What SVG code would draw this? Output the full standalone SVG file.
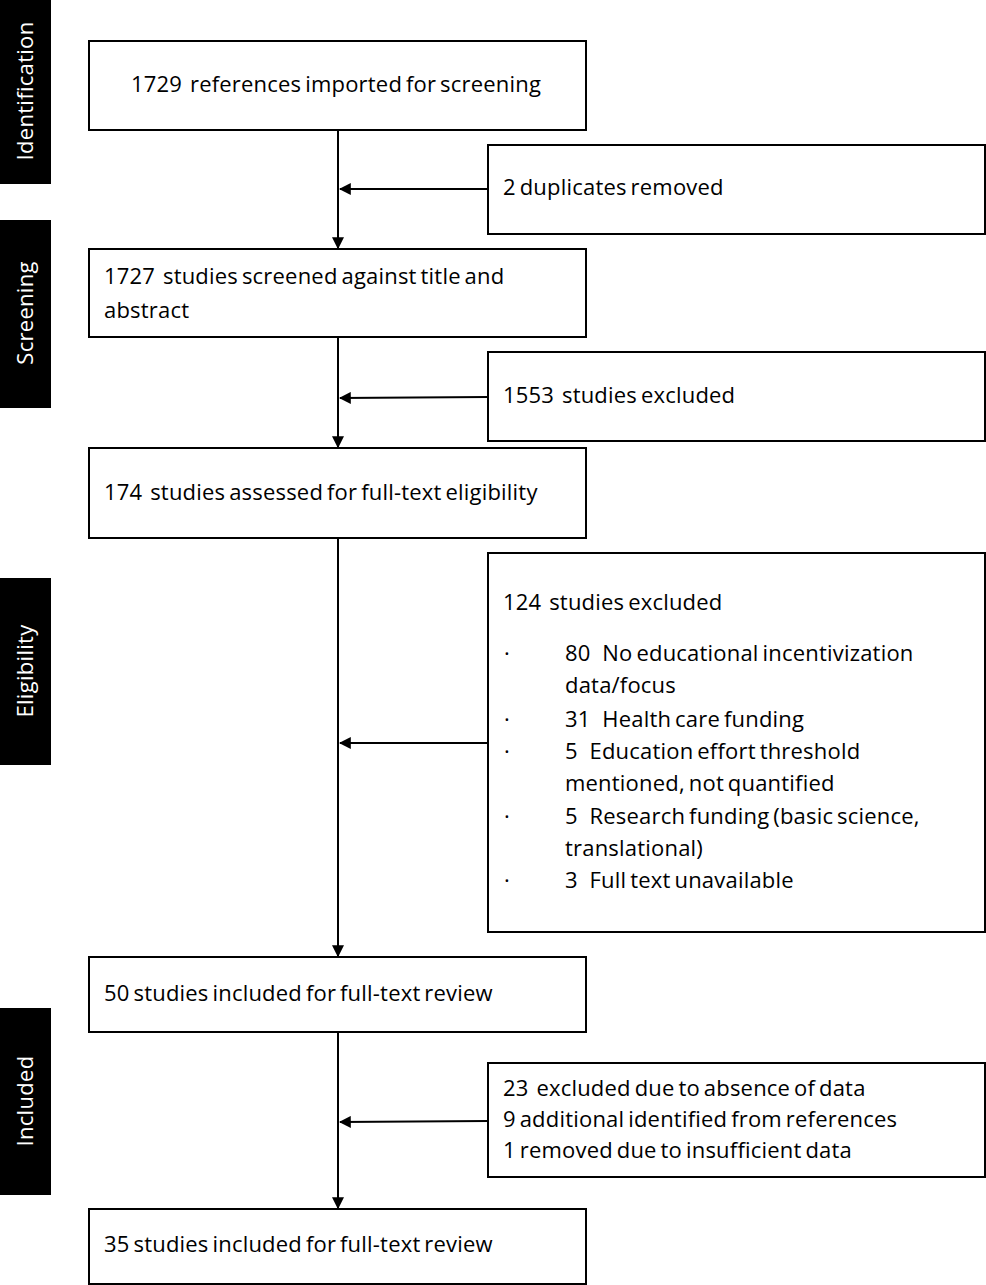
<svg xmlns="http://www.w3.org/2000/svg" width="986" height="1285" viewBox="0 0 986 1285">
<style>
.box{fill:#fff;stroke:#000;stroke-width:2}
.side{fill:#000}
.st{fill:#fff;font-family:"Open Sans",sans-serif;font-size:22px;text-anchor:middle;letter-spacing:0.3px}
.t{font-family:"Open Sans","Liberation Sans",sans-serif;font-size:22px;fill:#000;white-space:pre;letter-spacing:0.2px;word-spacing:-2px}
.ln{stroke:#000;stroke-width:2;fill:none}
</style>
<defs>
<marker id="ah" viewBox="0 0 10 10" refX="9" refY="5" markerWidth="12" markerHeight="12" markerUnits="userSpaceOnUse" orient="auto"><path d="M0,0 L10,5 L0,10 z" fill="#000"/></marker>
</defs>
<rect width="986" height="1285" fill="#fff"/>
<g id="side-identification"><rect class="side" x="0" y="0" width="51" height="184"/><text class="st" transform="translate(33,91) rotate(-90)">Identification</text></g>
<g id="side-screening"><rect class="side" x="0" y="220" width="51" height="188"/><text class="st" transform="translate(33,313) rotate(-90)">Screening</text></g>
<g id="side-eligibility"><rect class="side" x="0" y="578" width="51" height="187"/><text class="st" transform="translate(33,671) rotate(-90)">Eligibility</text></g>
<g id="side-included"><rect class="side" x="0" y="1008" width="51" height="187"/><text class="st" transform="translate(33,1101) rotate(-90)">Included</text></g>
<g id="connectors">
<line class="ln" x1="338" y1="130" x2="338" y2="248" marker-end="url(#ah)"/>
<line class="ln" x1="488" y1="189" x2="340" y2="189" marker-end="url(#ah)"/>
<line class="ln" x1="338" y1="337" x2="338" y2="447" marker-end="url(#ah)"/>
<line class="ln" x1="488" y1="397" x2="340" y2="398" marker-end="url(#ah)"/>
<line class="ln" x1="338" y1="538" x2="338" y2="956" marker-end="url(#ah)"/>
<line class="ln" x1="488" y1="743" x2="340" y2="743" marker-end="url(#ah)"/>
<line class="ln" x1="338" y1="1032" x2="338" y2="1208" marker-end="url(#ah)"/>
<line class="ln" x1="488" y1="1121" x2="340" y2="1122" marker-end="url(#ah)"/>
</g>
<g id="n1"><rect class="box" x="89" y="41" width="497" height="89"/><text class="t" x="131" y="92">1729  references imported for screening</text></g>
<g id="n-dup"><rect class="box" x="488" y="145" width="497" height="89"/><text class="t" x="503" y="195">2 duplicates removed</text></g>
<g id="n2"><rect class="box" x="89" y="249" width="497" height="88"/><text class="t" x="104" y="284">1727  studies screened against title and</text><text class="t" x="104" y="318">abstract</text></g>
<g id="n-excl1"><rect class="box" x="488" y="352" width="497" height="89"/><text class="t" x="503" y="403">1553  studies excluded</text></g>
<g id="n3"><rect class="box" x="89" y="448" width="497" height="90"/><text class="t" x="104" y="500">174  studies assessed for full-text eligibility</text></g>
<g id="n-excl2"><rect class="box" x="488" y="553" width="497" height="379"/>
<text class="t" x="503" y="610">124  studies excluded</text>
<g class="t"><text x="504" y="661">·</text><text x="504" y="727">·</text><text x="504" y="759">·</text><text x="504" y="824">·</text><text x="504" y="888">·</text></g>
<text class="t" x="565" y="661">80   No educational incentivization</text>
<text class="t" x="565" y="693">data/focus</text>
<text class="t" x="565" y="727">31   Health care funding</text>
<text class="t" x="565" y="759">5   Education effort threshold</text>
<text class="t" x="565" y="791">mentioned, not quantified</text>
<text class="t" x="565" y="824">5   Research funding (basic science,</text>
<text class="t" x="565" y="856">translational)</text>
<text class="t" x="565" y="888">3   Full text unavailable</text>
</g>
<g id="n4"><rect class="box" x="89" y="957" width="497" height="75"/><text class="t" x="104" y="1001">50 studies included for full-text review</text></g>
<g id="n-excl3"><rect class="box" x="488" y="1063" width="497" height="114"/>
<text class="t" x="503" y="1096">23  excluded due to absence of data</text>
<text class="t" x="503" y="1127">9 additional identified from references</text>
<text class="t" x="503" y="1158">1 removed due to insufficient data</text>
</g>
<g id="n5"><rect class="box" x="89" y="1209" width="497" height="75"/><text class="t" x="104" y="1252">35 studies included for full-text review</text></g>
</svg>
